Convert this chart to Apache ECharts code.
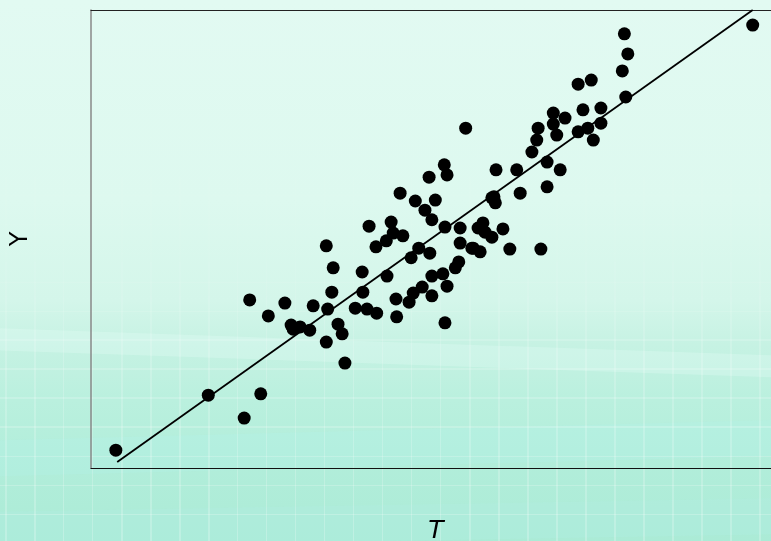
<!DOCTYPE html>
<html>
<head>
<meta charset="utf-8">
<script src="https://cdn.jsdelivr.net/npm/echarts@6/dist/echarts.min.js"></script>
<style>
html,body{margin:0;padding:0;}
body{width:771px;height:541px;overflow:hidden;position:relative;
background:linear-gradient(180deg,#e2faf2 0px,#ddf9ef 200px,#d4f6ea 300px,#c6f2e3 345px,#baf0de 400px,#b3eedb 450px,#abebd6 541px);}
#bands{position:absolute;left:0;top:0;width:771px;height:541px;pointer-events:none;}
#bands div{position:absolute;left:-60px;width:900px;}
#grid{position:absolute;left:0;top:0;width:771px;height:541px;pointer-events:none;
background-image:repeating-linear-gradient(90deg,rgba(255,255,255,0.22) 0 1.5px,transparent 1.5px 29px),
repeating-linear-gradient(0deg,rgba(255,255,255,0.22) 0 1.5px,transparent 1.5px 29px);
background-position:5px 0,0 3px;
-webkit-mask-image:linear-gradient(180deg,rgba(0,0,0,0.1) 0px,rgba(0,0,0,0.15) 250px,rgba(0,0,0,0.8) 360px,#000 541px);
mask-image:linear-gradient(180deg,rgba(0,0,0,0.1) 0px,rgba(0,0,0,0.15) 250px,rgba(0,0,0,0.8) 360px,#000 541px);}
#chart{position:absolute;left:0;top:0;width:771px;height:541px;}
</style>
</head>
<body>
<div id="bands">
  <div style="top:342px;height:22px;background:rgba(235,255,250,0.25);transform:rotate(2deg);"></div>
  <div style="top:430px;height:36px;background:rgba(180,242,235,0.25);transform:rotate(-1.5deg);"></div>
  <div style="top:505px;height:36px;background:rgba(180,242,235,0.2);transform:rotate(-1deg);"></div>
</div>
<div id="grid"></div>
<div id="chart"></div>
<script>
var tValues = [0.36,1.70,2.22,2.46,2.30,2.57,2.81,2.90,3.03,2.93,3.17,3.22,3.41,3.51,3.49,3.43,3.58,3.64,3.41,3.68,
  3.83,3.93,4.00,3.94,4.03,4.13,4.28,4.35,4.38,4.52,4.48,4.14,4.43,4.42,4.61,4.67,4.80,4.29,4.64,4.75,
  4.91,4.94,5.10,5.28,4.94,5.16,5.13,4.70,4.99,4.84,4.94,4.90,5.12,5.16,5.13,5.35,5.61,5.35,5.54,5.33,
  5.43,5.68,5.71,5.97,5.81,5.52,5.64,6.07,6.52,5.84,5.81,5.86,5.87,6.17,6.22,6.61,6.61,6.80,6.39,6.46,
  6.48,6.70,6.87,6.70,6.75,7.06,7.20,7.39,7.28,7.13,7.39,7.06,7.25,7.75,7.70,7.78,7.73,9.59];
var yValues = [0.39,1.59,1.09,1.62,3.67,3.32,3.60,3.12,3.08,3.03,3.01,3.54,4.85,4.37,3.84,3.47,3.14,2.93,2.75,2.29,
  3.49,4.28,3.47,3.84,5.28,4.83,4.96,5.37,5.13,5.07,6.00,3.38,3.30,3.69,3.62,3.82,3.95,4.19,4.59,4.80,
  4.69,4.19,4.24,4.37,3.76,3.97,3.17,5.83,5.85,5.63,5.42,6.35,6.62,6.40,5.26,5.24,5.24,4.91,4.80,4.50,
  7.42,5.35,5.15,5.22,5.04,4.80,4.72,4.78,4.78,5.92,5.90,5.79,6.51,6.51,6.00,6.14,6.68,6.51,6.90,7.16,
  7.42,7.75,7.64,7.51,7.27,7.34,7.42,7.53,7.16,7.82,7.86,8.38,8.47,8.10,8.67,9.04,9.48,9.67];
// Fitted line end points
var fitT = [0.38, 9.59];
var fitY = [0.13, 10.0];
var xAxisName = 'T';
var yAxisName = 'Y';

var pts = tValues.map(function(t,i){return [t,yValues[i]];});
var line = fitT.map(function(t,i){return [t,fitY[i]];});

var chart = echarts.init(document.getElementById('chart'), null, {renderer:'canvas'});
chart.setOption({
  backgroundColor:'transparent',
  animation:false,
  grid:{left:91,top:10,width:690,height:458,outerBoundsMode:'none',containLabel:false,show:false},
  xAxis:[
    {type:'value',min:0,max:10,position:'bottom',name:xAxisName,nameLocation:'middle',nameGap:51,
     nameTextStyle:{fontFamily:'DejaVu Sans',fontStyle:'italic',fontSize:25,color:'#000'},
     axisLine:{show:true,onZero:false,lineStyle:{color:'#111',width:1.2}},axisTick:{show:false},axisLabel:{show:false},splitLine:{show:false}},
    {type:'value',min:0,max:10,position:'top',
     axisLine:{show:true,onZero:false,lineStyle:{color:'#222',width:1.2}},axisTick:{show:false},axisLabel:{show:false},splitLine:{show:false}}
  ],
  yAxis:{type:'value',min:0,max:10,name:yAxisName,nameLocation:'middle',nameGap:58,
    nameTextStyle:{fontFamily:'DejaVu Sans',fontSize:24,color:'#000'},
    axisLine:{show:true,onZero:false,lineStyle:{color:'#888',width:1.5}},axisTick:{show:false},axisLabel:{show:false},splitLine:{show:false}},
  series:[
    {type:'line',data:line,symbol:'none',lineStyle:{color:'#000',width:1.8},z:2,silent:true},
    {type:'scatter',data:pts,symbol:'circle',symbolSize:13,itemStyle:{color:'#000',opacity:1},z:3}
  ]
});
</script>
</body>
</html>
